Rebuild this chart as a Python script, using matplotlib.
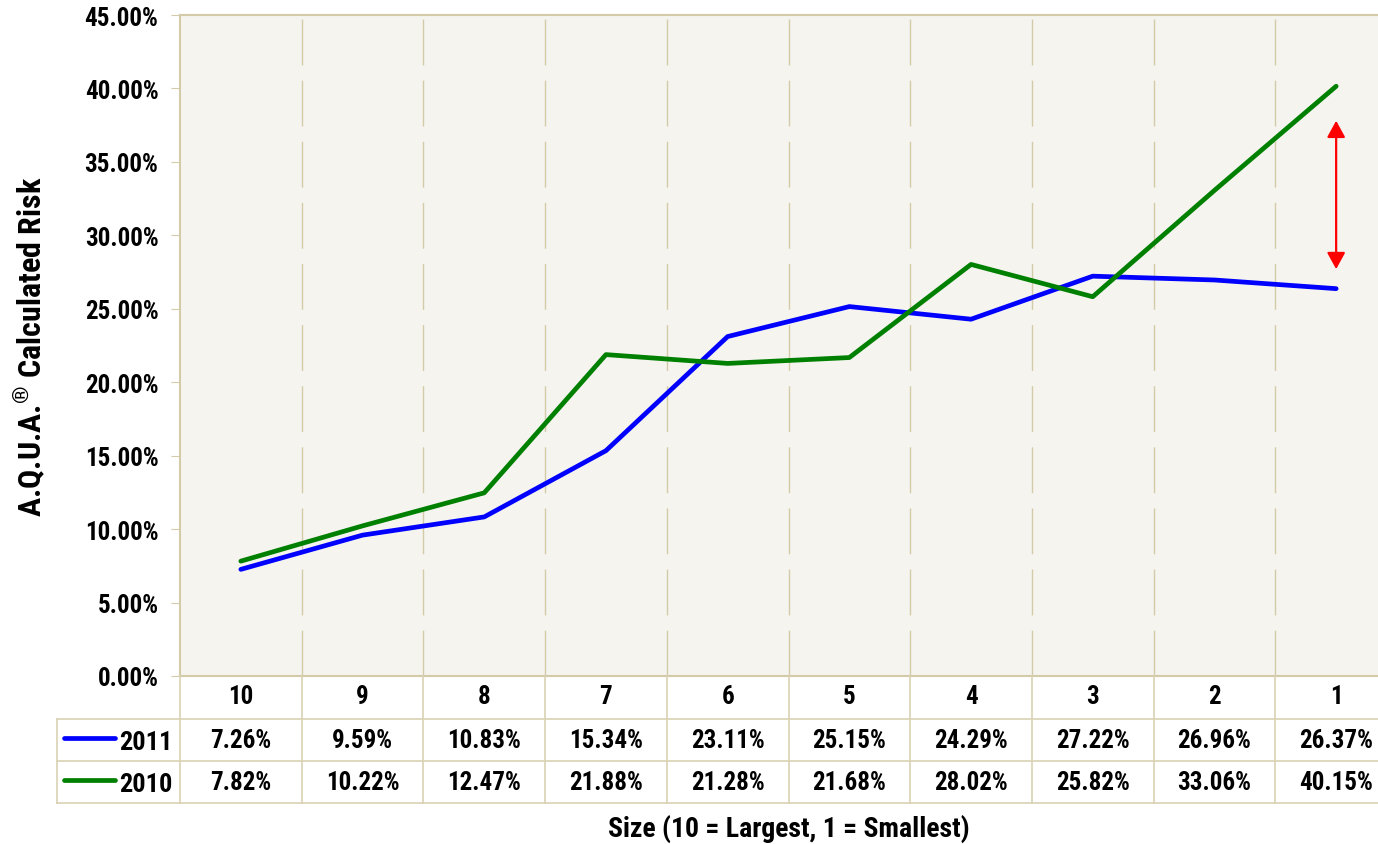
import matplotlib
matplotlib.use("Agg")
import matplotlib.pyplot as plt
from matplotlib import font_manager
import numpy as np

categories = ["10", "9", "8", "7", "6", "5", "4", "3", "2", "1"]
series_2011 = [7.26, 9.59, 10.83, 15.34, 23.11, 25.15, 24.29, 27.22, 26.96, 26.37]
series_2010 = [7.82, 10.22, 12.47, 21.88, 21.28, 21.68, 28.02, 25.82, 33.06, 40.15]
series_names = ["2011", "2010"]
series_colors = ["#0000ff", "#008000"]
yticks = [0, 5, 10, 15, 20, 25, 30, 35, 40, 45]

names = {f.name for f in font_manager.fontManager.ttflist}
fam = "DejaVu Sans"
for cand in ["Arial Narrow", "Liberation Sans Narrow", "Roboto Condensed", "Archivo Narrow",
             "PT Sans Narrow", "Open Sans Condensed", "Pragati Narrow", "Asap Condensed",
             "Encode Sans Condensed", "Fira Sans Condensed"]:
    if cand in names:
        fam = cand
        break
plt.rcParams['font.family'] = [fam, 'DejaVu Sans']
plt.rcParams['font.weight'] = 'bold'
plt.rcParams['mathtext.fontset'] = 'custom'
plt.rcParams['mathtext.rm'] = fam
plt.rcParams['mathtext.bf'] = fam + ':bold'

W, H = 1378, 845
fig = plt.figure(figsize=(W/100, H/100), dpi=100)
grid_c = "#d3cba8"
FS = 18

def px(x0, y0, x1, y1):
    return [x0/W, 1 - y1/H, (x1-x0)/W, (y1-y0)/H]

ax = fig.add_axes(px(180, 16, 1397, 677))
ax.set_facecolor("#f5f4ef")
x = np.arange(len(categories))
ax.plot(x, series_2011, color=series_colors[0], lw=3.4, solid_capstyle='round', zorder=3)
ax.plot(x, series_2010, color=series_colors[1], lw=3.4, solid_capstyle='round', zorder=3)
ax.set_xlim(-0.5, 9.5)
ax.set_ylim(0, 45)
for b in np.arange(0.5, 9.5, 1):
    ax.axvline(b, color=grid_c, lw=1, dashes=(33, 11), zorder=1)
ax.set_yticks(yticks)
ax.set_yticklabels([f"{v:.2f}%" for v in yticks], fontsize=FS, fontweight='bold')
ax.tick_params(axis='y', length=6.5, color=grid_c, pad=9)
ax.set_xticks([])
for s in ['top', 'right', 'left', 'bottom']:
    ax.spines[s].set_color(grid_c)
    ax.spines[s].set_linewidth(1.5)
ax.set_ylabel("A.Q.U.A.$^{\\mathbf{®}}$ Calculated Risk", fontsize=23, fontweight='bold')
ax.yaxis.set_label_coords((48 - 180) / 1217, 0.5)
ax.annotate("", xy=(9.0, 37.8), xytext=(9.0, 27.7),
            arrowprops=dict(arrowstyle="<|-|>,head_length=1.0,head_width=0.55", color="red",
                            lw=1.6, mutation_scale=10, shrinkA=0, shrinkB=0), zorder=4)

# table
tax = fig.add_axes(px(180, 677, 1397, 804))
tax.set_xlim(-0.5, 9.5)
tax.set_ylim(0, 127)
tax.axis('off')
lc = "#d9d2b4"
tax.plot([-1.51, 9.5], [84, 84], color=lc, lw=1.2, clip_on=False)
tax.plot([-1.51, 9.5], [42, 42], color=lc, lw=1.2, clip_on=False)
tax.plot([-1.51, 9.5], [0, 0], color=lc, lw=1.2, clip_on=False)
tax.plot([-1.51, -1.51], [0, 84], color=lc, lw=1.2, clip_on=False)
for b in np.arange(-0.5, 9.5, 1):
    tax.plot([b, b], [0, 127], color=lc, lw=1.2, clip_on=False)
for i, c in enumerate(categories):
    tax.text(i, 107, c, ha='center', va='center', fontsize=FS, fontweight='bold')
    tax.text(i, 63, f"{series_2011[i]:.2f}%", ha='center', va='center', fontsize=FS, fontweight='bold')
    tax.text(i, 21, f"{series_2010[i]:.2f}%", ha='center', va='center', fontsize=FS, fontweight='bold')
for yy, nm, col in [(63, series_names[0], series_colors[0]), (21, series_names[1], series_colors[1])]:
    tax.plot([-1.455, -1.03], [yy + 2, yy + 2], color=col, lw=3.4, solid_capstyle='round', clip_on=False)
    tax.text(-1.0, yy - 2, nm, ha='left', va='center', fontsize=19, fontweight='bold')

fig.text(789/W, 1 - 829/H, "Size (10 = Largest, 1 = Smallest)", ha='center', va='center',
         fontsize=20, fontweight='bold')

fig.savefig("out.png", dpi=100, facecolor='white')
